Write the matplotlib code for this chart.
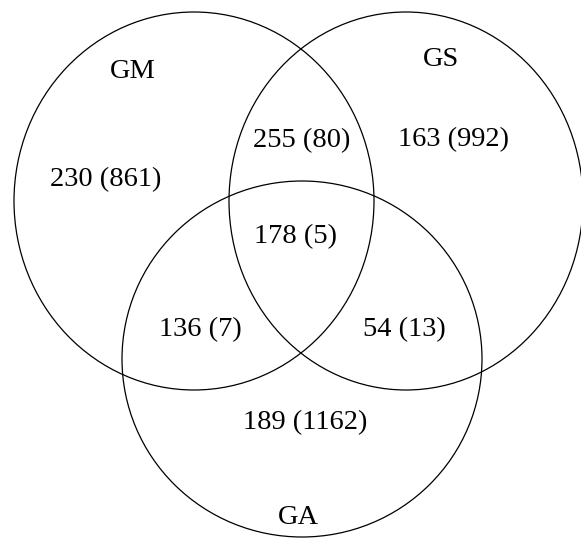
import matplotlib
matplotlib.use("Agg")
import matplotlib.pyplot as plt
from matplotlib.patches import Ellipse

plt.rcParams['font.family'] = ['Liberation Serif', 'DejaVu Serif']

# sets
set_names = ['GM', 'GS', 'GA']
# region values: count (bracketed count)
regions = ['GM only', 'GS only', 'GA only', 'GM&GS', 'GM&GA', 'GS&GA', 'all']
counts = [230, 163, 189, 255, 136, 54, 178]
brackets = [861, 992, 1162, 80, 7, 13, 5]

# layout in pixel-like coordinates (y down)
circles = {'GM': (194, 201, 180, 189),
           'GS': (406, 201, 177, 189),
           'GA': (302, 359, 180, 178)}
name_pos = {'GM': (133, 72), 'GS': (441, 60), 'GA': (298, 517)}
region_pos = {'GM only': (106, 180), 'GS only': (454, 140),
              'GA only': (305, 423), 'GM&GS': (302, 141),
              'GM&GA': (200, 330), 'GS&GA': (404, 330),
              'all': (296, 237)}

fig = plt.figure(figsize=(5.81, 5.38), dpi=100)
ax = fig.add_axes([0, 0, 1, 1])
ax.set_xlim(0, 581)
ax.set_ylim(538, 0)
ax.axis('off')

for name in set_names:
    cx, cy, rx, ry = circles[name]
    ax.add_patch(Ellipse((cx, cy), 2 * rx, 2 * ry, fill=False,
                         edgecolor='black', linewidth=0.9))
    x, y = name_pos[name]
    ax.text(x, y, name, fontsize=20.5, ha='center', va='center')

for r, c, b in zip(regions, counts, brackets):
    x, y = region_pos[r]
    ax.text(x, y, '%d (%d)' % (c, b), fontsize=20.5, ha='center', va='center')

fig.savefig('out.png', dpi=100)
